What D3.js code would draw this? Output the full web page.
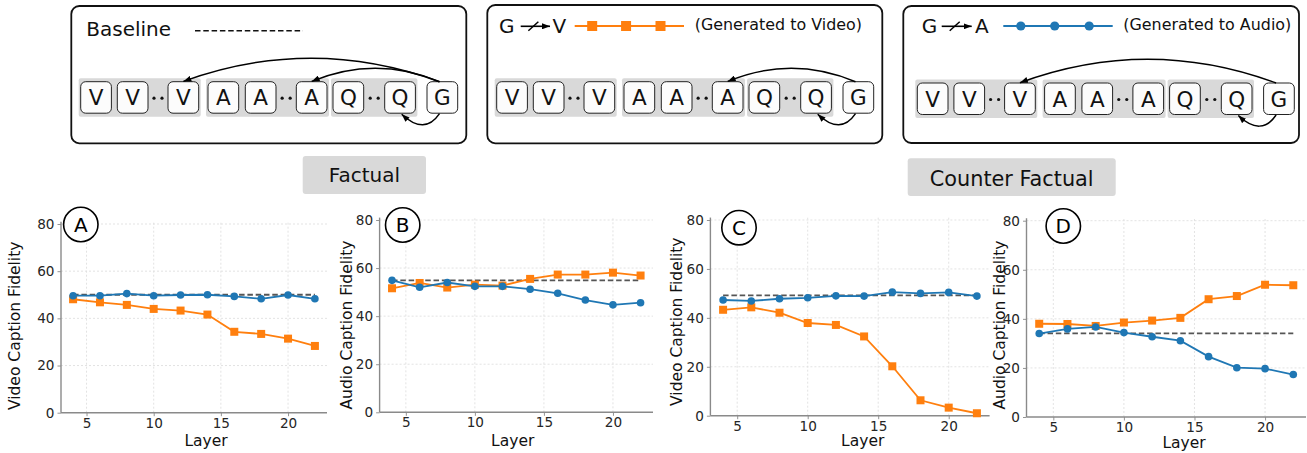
<!DOCTYPE html>
<html>
<head>
<meta charset="utf-8">
<script src="https://cdn.jsdelivr.net/npm/d3@7"></script>
<style>
  body { margin: 0; background: #fff; }
  svg { display: block; font-family: "DejaVu Sans", sans-serif; }
</style>
</head>
<body>
<svg id="fig" width="1307" height="453"></svg>
<script>
// ---- data ----
const layers = [4, 6, 8, 10, 12, 14, 16, 18, 20, 22];
const xTicks = [5, 10, 15, 20];
const yTicks = [0, 20, 40, 60, 80];

// Factual
const factVideoG2V = [48.1, 46.8, 45.7, 44.0, 43.3, 41.6, 34.3, 33.4, 31.4, 28.3];
const factVideoG2A = [49.6, 49.6, 50.5, 49.6, 49.9, 50.0, 49.3, 48.3, 49.9, 48.3];
const factVideoBase = 50.0;
const factAudioG2V = [51.6, 53.8, 51.9, 53.1, 52.7, 55.5, 57.3, 57.3, 58.1, 56.9];
const factAudioG2A = [54.9, 52.0, 54.0, 52.4, 52.4, 51.2, 49.5, 46.7, 44.7, 45.6];
const factAudioBase = 54.9;

// Counter factual
const cfVideoG2V = [43.3, 44.3, 42.1, 37.9, 37.1, 32.4, 20.2, 6.3, 3.3, 1.0];
const cfVideoG2A = [47.3, 46.9, 47.8, 48.2, 49.0, 48.9, 50.5, 50.0, 50.4, 48.9];
const cfVideoBase = 49.2;
const cfAudioG2V = [38.0, 37.9, 37.1, 38.5, 39.3, 40.4, 48.0, 49.3, 53.9, 53.7];
const cfAudioG2A = [34.0, 35.9, 36.7, 34.4, 32.7, 31.1, 24.6, 20.1, 19.7, 17.3];
const cfAudioBase = 34.1;

const panelLetters = ['A', 'B', 'C', 'D'];
const yLabels = ['Video Caption Fidelity', 'Audio Caption Fidelity', 'Video Caption Fidelity', 'Audio Caption Fidelity'];
const xLabel = 'Layer';
const sectionLabels = ['Factual', 'Counter Factual'];
const tokenLabels = ['V', 'V', 'V', 'A', 'A', 'A', 'Q', 'Q', 'G'];
const headerTexts = ['Baseline', '(Generated to Video)', '(Generated to Audio)'];

const ORANGE = '#ff7f0e';
const BLUE = '#1f77b4';

const svg = d3.select('#fig');

svg.append('defs').append('marker')
    .attr('id', 'head')
    .attr('viewBox', '0 0 8 6')
    .attr('refX', 8).attr('refY', 3)
    .attr('markerWidth', 8).attr('markerHeight', 6)
    .attr('markerUnits', 'userSpaceOnUse')
    .attr('orient', 'auto')
  .append('path').attr('d', 'M0,0 L8,3 L0,6 Z').attr('fill', '#000');

// ---- top diagram boxes ----
const tokOff = [0, 36.6, 87.3, 127.3, 164.6, 215.6, 252.3, 304, 346.3];
const tokW = 30.7, tokH = 31.5;
const groups = [[0, 2], [3, 5], [6, 7]];
const dotsAfter = [1, 4, 6];

const boxes = [
    { x: 71.3, y: 6, w: 395, h: 137.3, rowX: 80.7, rowY: 81.7, arcs: [{ to: 2, peak: 58.3 }, { to: 5, peak: 68.3 }] },
    { x: 487.3, y: 5, w: 395, h: 138.3, rowX: 496.7, rowY: 81.7, arcs: [{ to: 5, peak: 68.3 }] },
    { x: 903.3, y: 6, w: 395.7, h: 137, rowX: 917.3, rowY: 83, arcs: [{ to: 2, peak: 59.3 }] }
];

boxes.forEach((b) => {
    const g = svg.append('g');
    g.append('rect')
        .attr('x', b.x).attr('y', b.y).attr('width', b.w).attr('height', b.h)
        .attr('rx', 8).attr('fill', '#fff').attr('stroke', '#111').attr('stroke-width', 1.8);

    groups.forEach(([a, z]) => {
        const x1 = b.rowX + tokOff[a] - 2;
        const x2 = b.rowX + tokOff[z] + tokW + 2;
        g.append('rect')
            .attr('x', x1).attr('y', b.rowY - 3.4)
            .attr('width', x2 - x1).attr('height', tokH + 7)
            .attr('rx', 2).attr('fill', '#d9d9d9');
    });

    tokenLabels.forEach((t, i) => {
        const tx = b.rowX + tokOff[i];
        g.append('rect')
            .attr('x', tx).attr('y', b.rowY).attr('width', tokW).attr('height', tokH)
            .attr('rx', 5).attr('fill', '#fcfcfc').attr('stroke', '#222').attr('stroke-width', 1);
        g.append('text')
            .attr('x', tx + tokW / 2).attr('y', b.rowY + tokH / 2 + 7.8)
            .attr('text-anchor', 'middle').attr('font-size', 21.5).attr('fill', '#111')
            .text(t);
    });

    dotsAfter.forEach((i) => {
        const mid = (b.rowX + tokOff[i] + tokW + b.rowX + tokOff[i + 1]) / 2;
        [-4, 4].forEach((d) => {
            g.append('circle').attr('cx', mid + d).attr('cy', b.rowY + 16.5)
                .attr('r', 1.6).attr('fill', '#111');
        });
    });

    const gx = b.rowX + tokOff[8] + 12.5;
    b.arcs.forEach((a) => {
        const ex = b.rowX + tokOff[a.to] + tokW / 2;
        const ey = b.rowY - 0.3;
        const cy = 2 * a.peak - b.rowY;
        g.append('path')
            .attr('d', `M${gx},${b.rowY} Q${(gx + ex) / 2},${cy} ${ex},${ey}`)
            .attr('fill', 'none').attr('stroke', '#000').attr('stroke-width', 1.5)
            .attr('marker-end', 'url(#head)');
    });
    // self loop G -> Q
    const ly = b.rowY + tokH + 0.5;
    const qx = b.rowX + tokOff[7] + 17;
    g.append('path')
        .attr('d', `M${gx},${ly} Q${(gx + qx) / 2 + 4},${ly + 22} ${qx},${ly + 0.5}`)
        .attr('fill', 'none').attr('stroke', '#000').attr('stroke-width', 1.5)
        .attr('marker-end', 'url(#head)');
});

// header of box 1
svg.append('text').attr('x', 86.3).attr('y', 36).attr('font-size', 20).attr('fill', '#111').text(headerTexts[0]);
svg.append('line').attr('x1', 195).attr('x2', 303).attr('y1', 30.7).attr('y2', 30.7)
    .attr('stroke', '#111').attr('stroke-width', 1.4).attr('stroke-dasharray', '5.5,2.8');

// headers of box 2 and 3
function notArrow(x0, x1, y) {
    svg.append('line').attr('x1', x0).attr('x2', x1).attr('y1', y).attr('y2', y)
        .attr('stroke', '#000').attr('stroke-width', 1.6).attr('marker-end', 'url(#head)');
    const m = (x0 + x1) / 2 - 2;
    svg.append('line').attr('x1', m - 5).attr('x2', m + 5).attr('y1', y + 4.5).attr('y2', y - 4.5)
        .attr('stroke', '#000').attr('stroke-width', 1.5);
}
const heads = [
    { g: 499, ax0: 520.7, ax1: 550, t: 'V', tx: 552.5, l0: 574.7, l1: 684, color: ORANGE, sym: 'square', txt: headerTexts[1], txtX: 694.7 },
    { g: 921.7, ax0: 941.7, ax1: 971.7, t: 'A', tx: 975, l0: 1003.3, l1: 1112.7, color: BLUE, sym: 'circle', txt: headerTexts[2], txtX: 1123.3 }
];
heads.forEach((h) => {
    svg.append('text').attr('x', h.g).attr('y', 33.3).attr('font-size', 20).attr('fill', '#111').text('G');
    notArrow(h.ax0, h.ax1, 26.3);
    svg.append('text').attr('x', h.tx).attr('y', 33.3).attr('font-size', 20).attr('fill', '#111').text(h.t);
    svg.append('line').attr('x1', h.l0).attr('x2', h.l1).attr('y1', 26).attr('y2', 26)
        .attr('stroke', h.color).attr('stroke-width', 1.8);
    [0.16, 0.47, 0.785].forEach((f) => {
        const cx = h.l0 + f * (h.l1 - h.l0);
        if (h.sym === 'square') {
            svg.append('rect').attr('x', cx - 5).attr('y', 21).attr('width', 10).attr('height', 10).attr('fill', h.color);
        } else {
            svg.append('circle').attr('cx', cx).attr('cy', 26).attr('r', 4.6).attr('fill', h.color);
        }
    });
    svg.append('text').attr('x', h.txtX).attr('y', 29.5).attr('font-size', 15.9).attr('fill', '#111').text(h.txt);
});

// ---- section labels ----
const sections = [
    { x: 302.7, y: 156, w: 123.3, h: 38, ty: 181.7 },
    { x: 907.7, y: 158.3, w: 208, h: 37.7, ty: 185.5 }
];
sections.forEach((s, i) => {
    svg.append('rect').attr('x', s.x).attr('y', s.y).attr('width', s.w).attr('height', s.h)
        .attr('rx', 3).attr('fill', '#d9d9d9');
    svg.append('text').attr('x', s.x + s.w / 2).attr('y', s.ty).attr('text-anchor', 'middle')
        .attr('font-size', i === 0 ? 20 : 20.8).attr('fill', '#111').text(sectionLabels[i]);
});

// ---- line charts ----
const panels = [
    { g2v: factVideoG2V, g2a: factVideoG2A, base: factVideoBase, left: 61, right: 327, top: 224, bottom: 412.7, ylx: 15, yly: 325.8, lx: 206, ly: 446, circ: [80.8, 224.5] },
    { g2v: factAudioG2V, g2a: factAudioG2A, base: factAudioBase, left: 379.6, right: 653, top: 220, bottom: 412.3, ylx: 346.7, yly: 325, lx: 512.7, ly: 445.5, circ: [402.7, 225] },
    { g2v: cfVideoG2V, g2a: cfVideoG2A, base: cfVideoBase, left: 710.4, right: 989.6, top: 220, bottom: 415.7, ylx: 676.7, yly: 321.7, lx: 862.7, ly: 446, circ: [739, 227.7] },
    { g2v: cfAudioG2V, g2a: cfAudioG2A, base: cfAudioBase, left: 1026.5, right: 1306, top: 220.7, bottom: 417, ylx: 1000, yly: 325, lx: 1184, ly: 447.5, circ: [1063.3, 226] }
];

panels.forEach((p, i) => {
    const x = d3.scaleLinear().domain([3.1, 22.9]).range([p.left, p.right]);
    const y = d3.scaleLinear().domain([0, 80]).range([p.bottom, p.top]);
    const g = svg.append('g');
    const yTop = y(81);

    // grid
    g.selectAll('line.gx').data(xTicks).enter().append('line')
        .attr('x1', (d) => x(d)).attr('x2', (d) => x(d)).attr('y1', p.bottom).attr('y2', yTop)
        .attr('stroke', '#e0e0e0').attr('stroke-width', 0.9).attr('stroke-dasharray', '2,2');
    g.selectAll('line.gy').data(yTicks.slice(1)).enter().append('line')
        .attr('x1', p.left).attr('x2', p.right).attr('y1', (d) => y(d)).attr('y2', (d) => y(d))
        .attr('stroke', '#e0e0e0').attr('stroke-width', 0.9).attr('stroke-dasharray', '2,2');

    // axes
    const ax = g.append('g').attr('transform', `translate(0,${p.bottom})`)
        .call(d3.axisBottom(x).tickValues(xTicks).tickSize(3.5).tickSizeOuter(0).tickPadding(2));
    const ay = g.append('g').attr('transform', `translate(${p.left},0)`)
        .call(d3.axisLeft(y).tickValues(yTicks).tickSize(3.5).tickSizeOuter(0).tickPadding(3));
    [ax, ay].forEach((a) => {
        a.select('.domain').remove();
        a.selectAll('.tick line').attr('stroke', '#888').attr('stroke-width', 0.9);
        a.selectAll('.tick text').attr('font-size', 13.6).attr('fill', '#262626')
            .attr('font-family', '"DejaVu Sans", sans-serif');
    });
    g.append('line').attr('x1', p.left).attr('x2', p.left).attr('y1', p.bottom).attr('y2', yTop)
        .attr('stroke', '#8a8a8a').attr('stroke-width', 1.4);
    g.append('line').attr('x1', p.left).attr('x2', p.right).attr('y1', p.bottom).attr('y2', p.bottom)
        .attr('stroke', '#8a8a8a').attr('stroke-width', 1.4);

    // baseline
    g.append('line').attr('x1', x(layers[0])).attr('x2', x(layers[layers.length - 1]))
        .attr('y1', y(p.base)).attr('y2', y(p.base))
        .attr('stroke', '#555').attr('stroke-width', 1.8).attr('stroke-dasharray', '5.5,2.8');

    const line = d3.line().x((d, j) => x(layers[j])).y((d) => y(d));

    // generated to video (orange squares)
    g.append('path').datum(p.g2v).attr('d', line).attr('fill', 'none')
        .attr('stroke', ORANGE).attr('stroke-width', 1.8);
    g.selectAll('rect.sq').data(p.g2v).enter().append('rect')
        .attr('x', (d, j) => x(layers[j]) - 4).attr('y', (d) => y(d) - 4)
        .attr('width', 8).attr('height', 8).attr('fill', ORANGE);

    // generated to audio (blue circles)
    g.append('path').datum(p.g2a).attr('d', line).attr('fill', 'none')
        .attr('stroke', BLUE).attr('stroke-width', 1.8);
    g.selectAll('circle.dot').data(p.g2a).enter().append('circle')
        .attr('cx', (d, j) => x(layers[j])).attr('cy', (d) => y(d))
        .attr('r', 3.8).attr('fill', BLUE);

    // labels
    g.append('text').attr('x', p.lx).attr('y', p.ly).attr('text-anchor', 'middle')
        .attr('font-size', 15.5).attr('fill', '#111').text(xLabel);
    g.append('text').attr('transform', `translate(${p.ylx},${p.yly}) rotate(-90)`)
        .attr('text-anchor', 'middle').attr('dominant-baseline', 'central')
        .attr('font-size', 15.5).attr('fill', '#111').text(yLabels[i]);

    g.append('circle').attr('cx', p.circ[0]).attr('cy', p.circ[1]).attr('r', 17.2)
        .attr('fill', '#fff').attr('stroke', '#000').attr('stroke-width', 1.6);
    g.append('text').attr('x', p.circ[0]).attr('y', p.circ[1] + 7.3).attr('text-anchor', 'middle')
        .attr('font-size', 20).attr('fill', '#000').text(panelLetters[i]);
});
</script>
</body>
</html>
